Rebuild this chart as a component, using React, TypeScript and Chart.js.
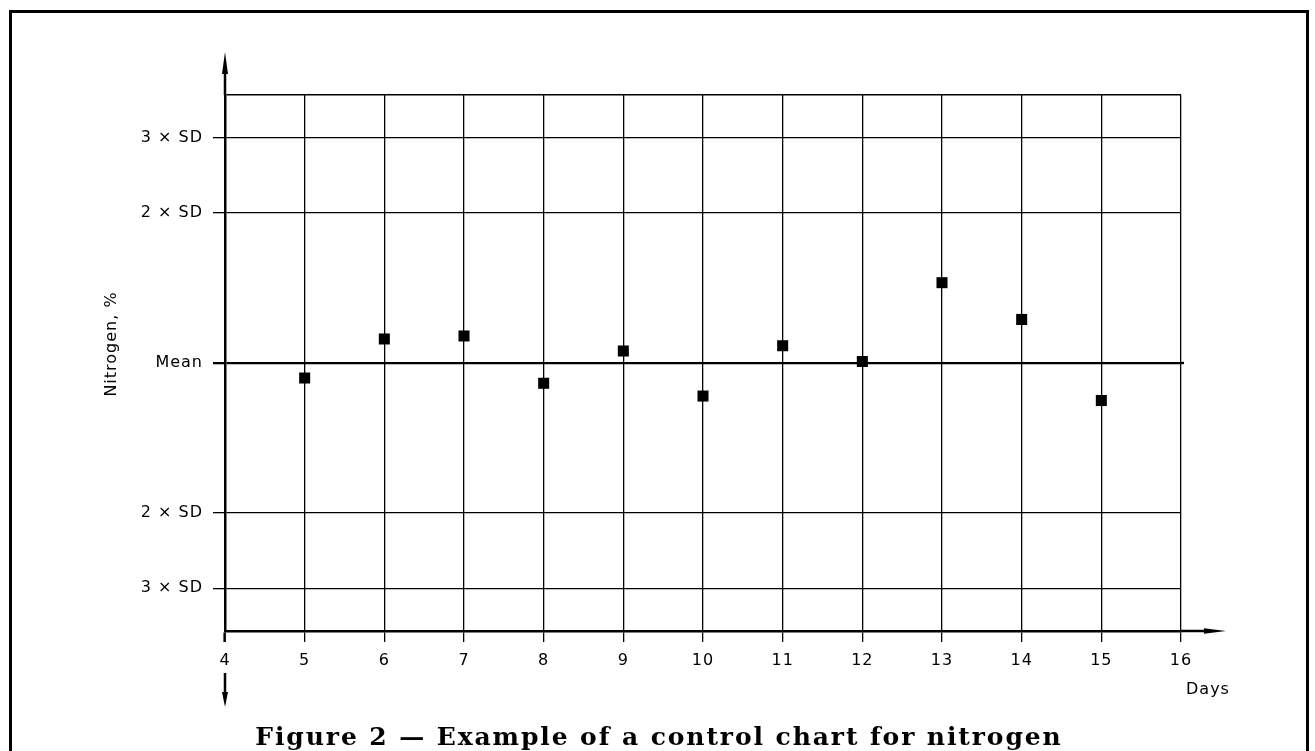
import React, { useEffect, useRef } from 'react';
import { Chart, registerables } from 'chart.js';

Chart.register(...registerables);

// days on the x axis
const days = [5, 6, 7, 8, 9, 10, 11, 12, 13, 14, 15];
// nitrogen results, expressed in SD units away from the mean
const nitrogen = [-0.2, 0.32, 0.36, -0.27, 0.16, -0.44, 0.23, 0.02, 1.07, 0.58, -0.5];

const xMin = 4;
const xMax = 16;
const yLimit = 3.57;
const yTickValues = [-3, -2, 0, 2, 3];
const yTickLabels = ['3 × SD', '2 × SD', 'Mean', '2 × SD', '3 × SD'];

const FONT = "'DejaVu Sans', sans-serif";

// axis arrows, the broken stub below the "4" and the loose texts
const axisDecor = {
  id: 'axisDecor',
  beforeDraw(chart: Chart) {
    // the drawing's lettering is more widely spaced than DejaVu
    (chart.ctx as any).letterSpacing = '1px';
  },
  afterDraw(chart: Chart) {
    const { ctx, chartArea: a } = chart;
    ctx.save();
    ctx.strokeStyle = '#000';
    ctx.fillStyle = '#000';
    ctx.lineWidth = 2.5;

    const seg = (x1: number, y1: number, x2: number, y2: number) => {
      ctx.beginPath();
      ctx.moveTo(x1, y1);
      ctx.lineTo(x2, y2);
      ctx.stroke();
    };
    const head = (pts: number[][]) => {
      ctx.beginPath();
      ctx.moveTo(pts[0][0], pts[0][1]);
      ctx.lineTo(pts[1][0], pts[1][1]);
      ctx.lineTo(pts[2][0], pts[2][1]);
      ctx.closePath();
      ctx.fill();
    };

    // y axis going up
    seg(a.left, a.top, a.left, 66);
    head([[a.left, 52], [a.left - 3, 74], [a.left + 3, 74]]);
    // stub below the x labels, pointing down
    seg(a.left, 673, a.left, 696);
    head([[a.left, 707], [a.left - 3, 692], [a.left + 3, 692]]);
    // x axis going right
    seg(a.right, a.bottom, 1210, a.bottom);
    head([[1226, a.bottom], [1204, a.bottom - 2.8], [1204, a.bottom + 2.8]]);
    // mean line runs a touch past the frame
    ctx.lineWidth = 2.3;
    const yMean = chart.scales.y.getPixelForValue(0);
    seg(a.right, yMean, a.right + 3, yMean);

    ctx.font = `16px ${FONT}`;
    ctx.textBaseline = 'alphabetic';
    ctx.textAlign = 'left';
    ctx.fillText('Days', 1186, 694);

    ctx.translate(116, 344);
    ctx.rotate(-Math.PI / 2);
    ctx.textAlign = 'center';
    ctx.fillText('Nitrogen, %', 0, 0);
    ctx.restore();
  },
};

const ControlChart: React.FC = () => {
  const canvasRef = useRef<HTMLCanvasElement | null>(null);

  useEffect(() => {
    if (!canvasRef.current) return;

    const chart = new Chart(canvasRef.current, {
      type: 'scatter',
      plugins: [axisDecor],
      data: {
        datasets: [{
          data: days.map((d, i) => ({ x: d, y: nitrogen[i] })),
          pointStyle: 'rect',
          pointRadius: 7.8,
          pointHoverRadius: 7.8,
          backgroundColor: '#000',
          borderWidth: 0,
          showLine: false,
        }],
      },
      options: {
        animation: false,
        responsive: true,
        maintainAspectRatio: false,
        events: [],
        layout: { padding: { top: 95, right: 134, bottom: 0, left: 0 } },
        plugins: {
          legend: { display: false },
          tooltip: { enabled: false },
        },
        scales: {
          x: {
            type: 'linear',
            min: xMin,
            max: xMax,
            afterFit: (s: any) => {
              s.height = 120;
              s.paddingLeft = 0;
              s.paddingRight = 0;
            },
            ticks: {
              stepSize: 1,
              autoSkip: false,
              maxRotation: 0,
              padding: 9,
              color: '#000',
              font: { family: FONT, size: 16 },
            },
            grid: {
              color: (c: any) => (c.tick && c.tick.value === xMin ? 'rgba(0,0,0,0)' : '#000'),
              lineWidth: 1.3,
              tickColor: '#000',
              tickWidth: (c: any) => (c.tick && c.tick.value === xMin ? 2.5 : 1.3),
              tickLength: 11,
            },
            border: { display: true, color: '#000', width: 2.5 },
          },
          y: {
            type: 'linear',
            min: -yLimit,
            max: yLimit,
            afterBuildTicks: (s: any) => {
              s.ticks = [...yTickValues, yLimit].map(v => ({ value: v }));
            },
            afterFit: (s: any) => {
              s.width = 225;
              s.paddingTop = 0;
              s.paddingBottom = 0;
            },
            ticks: {
              padding: 10,
              color: '#000',
              font: { family: FONT, size: 16 },
              callback: (v: any) => {
                const i = yTickValues.indexOf(Number(v));
                return i >= 0 ? yTickLabels[i] : '';
              },
            },
            grid: {
              color: '#000',
              lineWidth: (c: any) => {
                if (!c.tick) return 1.3;
                if (c.tick.value === 0) return 2.3;
                return c.tick.value === yLimit ? 1.5 : 1.3;
              },
              tickColor: (c: any) => (c.tick && c.tick.value === yLimit ? 'rgba(0,0,0,0)' : '#000'),
              tickLength: 12,
            },
            border: { display: true, color: '#000', width: 2.5 },
          },
        },
      } as any,
    });

    return () => {
      chart.destroy();
    };
  }, []);

  return (
    <div style={{ position: 'fixed', left: 0, top: 0, width: '1315px', height: '751px', background: '#fff' }}>
      <div
        style={{
          position: 'absolute', left: '9px', top: '10px', width: '1300px', height: '760px',
          border: '3px solid #000', borderBottom: 'none', boxSizing: 'border-box',
        }}
      />
      <div style={{ position: 'absolute', left: 0, top: 0, width: '1315px', height: '751px' }}>
        <canvas ref={canvasRef} />
      </div>
      <div
        style={{
          position: 'absolute', left: '9px', top: '724px', width: '1300px', textAlign: 'center',
          fontFamily: "'DejaVu Serif', serif", fontWeight: 'bold', fontSize: '25px', lineHeight: '25px',
          letterSpacing: '1.9px', color: '#000', whiteSpace: 'nowrap',
        }}
      >
        Figure 2 — Example of a control chart for nitrogen
      </div>
    </div>
  );
};

export default function App() {
  return <ControlChart />;
}
